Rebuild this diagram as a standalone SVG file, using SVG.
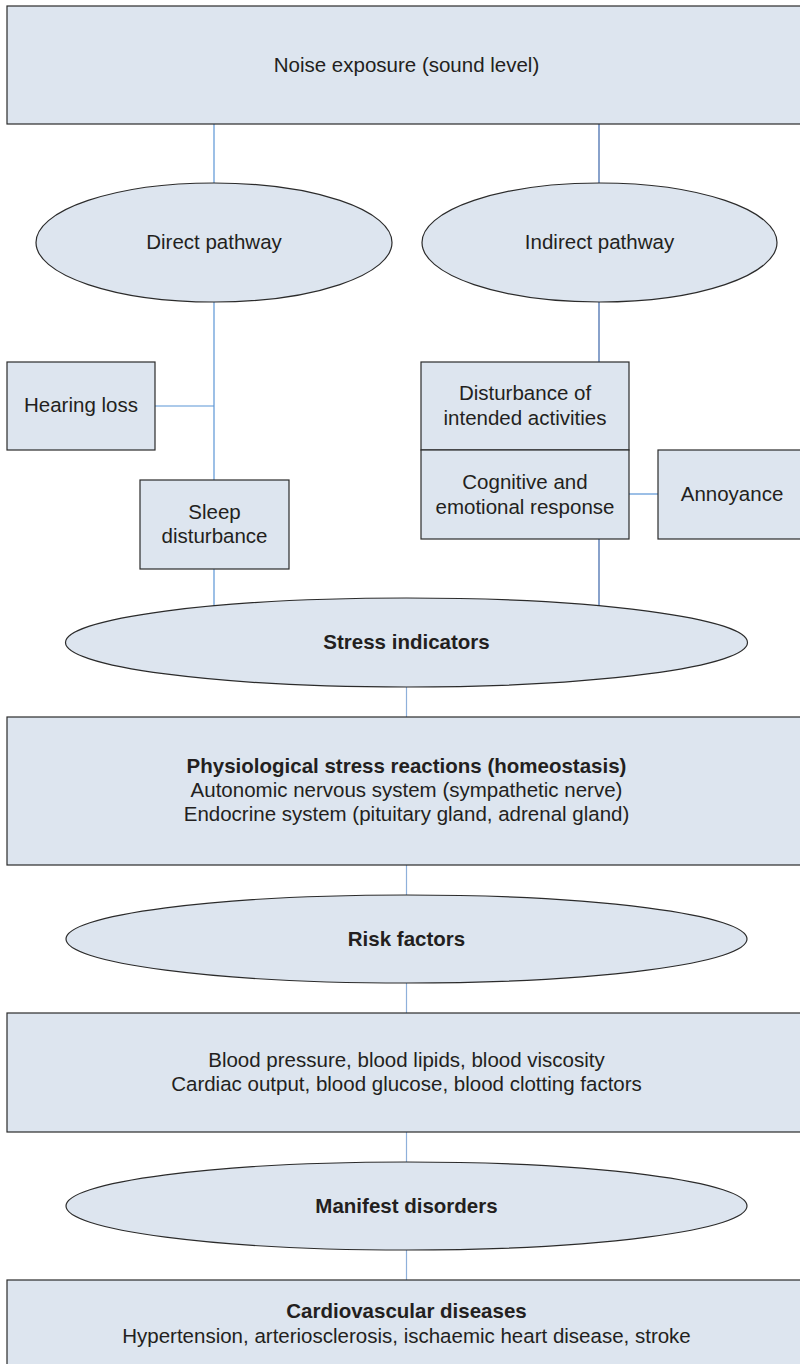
<svg xmlns="http://www.w3.org/2000/svg" width="800" height="1364" viewBox="0 0 800 1364">
  <style>
    .box { fill: #dde5ef; stroke: #2b2b2b; stroke-width: 1.2; }
    .lbl { font-family: "Liberation Sans", Arial, Helvetica, sans-serif; font-size: 20.5px; fill: #231f20; text-anchor: middle; }
    .b { font-weight: bold; }
    .link { stroke: #5b95d6; stroke-width: 1.2; fill: none; }
    .link-dark { stroke: #3a64a8; stroke-width: 1.2; fill: none; }
    .link-pale { stroke: #8eb0da; stroke-width: 1.2; fill: none; }
  </style>
  <rect width="800" height="1364" fill="#ffffff"/>

  <!-- connectors -->
  <g id="connectors">
    <line class="link" x1="214" y1="124" x2="214" y2="183"/>
    <line class="link" x1="214" y1="302" x2="214" y2="480"/>
    <line class="link" x1="155" y1="406" x2="214" y2="406"/>
    <line class="link" x1="214" y1="569" x2="214" y2="606"/>
    <line class="link-dark" x1="599" y1="124" x2="599" y2="183"/>
    <line class="link-dark" x1="599" y1="302" x2="599" y2="362"/>
    <line class="link" x1="629" y1="494" x2="658" y2="494"/>
    <line class="link-dark" x1="599" y1="539" x2="599" y2="606"/>
    <line class="link-pale" x1="406.5" y1="687" x2="406.5" y2="717"/>
    <line class="link-pale" x1="406.5" y1="865" x2="406.5" y2="895"/>
    <line class="link-pale" x1="406.5" y1="983" x2="406.5" y2="1013"/>
    <line class="link-pale" x1="406.5" y1="1132" x2="406.5" y2="1162"/>
    <line class="link-pale" x1="406.5" y1="1250" x2="406.5" y2="1280"/>
  </g>

  <g id="noise-exposure">
    <rect class="box" x="7" y="6" width="800" height="118"/>
    <text class="lbl" x="406.5" y="72">Noise exposure (sound level)</text>
  </g>

  <g id="direct-pathway">
    <ellipse class="box" cx="214" cy="242.5" rx="178" ry="59.5"/>
    <text class="lbl" x="214" y="249">Direct pathway</text>
  </g>

  <g id="indirect-pathway">
    <ellipse class="box" cx="599.5" cy="242.5" rx="177.5" ry="59.5"/>
    <text class="lbl" x="599.5" y="249">Indirect pathway</text>
  </g>

  <g id="hearing-loss">
    <rect class="box" x="7" y="362" width="148" height="88"/>
    <text class="lbl" x="81" y="412">Hearing loss</text>
  </g>

  <g id="sleep-disturbance">
    <rect class="box" x="140" y="480" width="149" height="89"/>
    <text class="lbl" x="214.5" y="519">Sleep</text>
    <text class="lbl" x="214.5" y="543">disturbance</text>
  </g>

  <g id="disturbance-activities">
    <rect class="box" x="421" y="362" width="208" height="88"/>
    <text class="lbl" x="525" y="400">Disturbance of</text>
    <text class="lbl" x="525" y="425">intended activities</text>
  </g>

  <g id="cognitive-response">
    <rect class="box" x="421" y="450" width="208" height="89"/>
    <text class="lbl" x="525" y="489">Cognitive and</text>
    <text class="lbl" x="525" y="514">emotional response</text>
  </g>

  <g id="annoyance">
    <rect class="box" x="658" y="450" width="150" height="89"/>
    <text class="lbl" x="732" y="501">Annoyance</text>
  </g>

  <g id="stress-indicators">
    <ellipse class="box" cx="406.5" cy="642.5" rx="341" ry="44.5"/>
    <text class="lbl b" x="406.5" y="649">Stress indicators</text>
  </g>

  <g id="physiological-reactions">
    <rect class="box" x="7" y="717" width="800" height="148"/>
    <text class="lbl b" x="406.5" y="773">Physiological stress reactions (homeostasis)</text>
    <text class="lbl" x="406.5" y="797">Autonomic nervous system (sympathetic nerve)</text>
    <text class="lbl" x="406.5" y="821">Endocrine system (pituitary gland, adrenal gland)</text>
  </g>

  <g id="risk-factors">
    <ellipse class="box" cx="406.5" cy="939" rx="340.5" ry="44"/>
    <text class="lbl b" x="406.5" y="946">Risk factors</text>
  </g>

  <g id="blood-parameters">
    <rect class="box" x="7" y="1013" width="800" height="119"/>
    <text class="lbl" x="406.5" y="1067">Blood pressure, blood lipids, blood viscosity</text>
    <text class="lbl" x="406.5" y="1091">Cardiac output, blood glucose, blood clotting factors</text>
  </g>

  <g id="manifest-disorders">
    <ellipse class="box" cx="406.5" cy="1206" rx="340.5" ry="44"/>
    <text class="lbl b" x="406.5" y="1213">Manifest disorders</text>
  </g>

  <g id="cardiovascular-diseases">
    <rect class="box" x="7" y="1280" width="800" height="100"/>
    <text class="lbl b" x="406.5" y="1318">Cardiovascular diseases</text>
    <text class="lbl" x="406.5" y="1343">Hypertension, arteriosclerosis, ischaemic heart disease, stroke</text>
  </g>
</svg>
